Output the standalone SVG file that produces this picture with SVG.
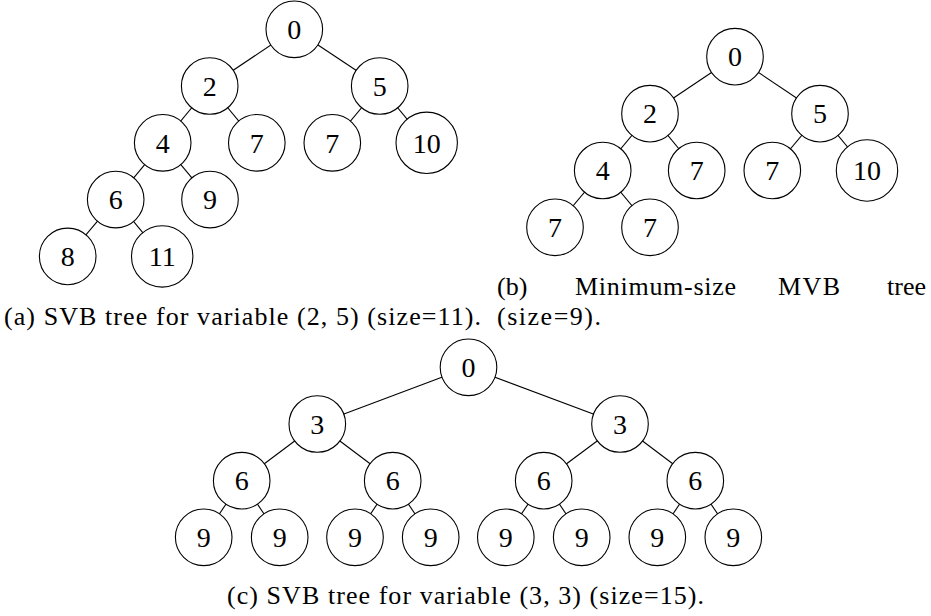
<svg xmlns="http://www.w3.org/2000/svg" width="931" height="616" viewBox="0 0 931 616">
<style>
.e{stroke:#000;stroke-width:1.1;fill:none}
.n circle{fill:#fff;stroke:#000;stroke-width:1.1}
.n text{font-family:"Liberation Serif","Times New Roman",serif;font-size:28px;text-anchor:middle;fill:#000}
.cap{font-family:"Liberation Serif","Times New Roman",serif;font-size:26px;fill:#000}
</style>
<rect width="931" height="616" fill="#fff"/>
<g id="connectors">
<line class="e" x1="294.3" y1="29.3" x2="209.7" y2="86"/>
<line class="e" x1="294.3" y1="29.3" x2="379.7" y2="86"/>
<line class="e" x1="209.7" y1="86" x2="162.7" y2="142.8"/>
<line class="e" x1="209.7" y1="86" x2="256.8" y2="142.8"/>
<line class="e" x1="379.7" y1="86" x2="332.3" y2="142.8"/>
<line class="e" x1="379.7" y1="86" x2="426.7" y2="142.8"/>
<line class="e" x1="162.7" y1="142.8" x2="115.7" y2="199.6"/>
<line class="e" x1="162.7" y1="142.8" x2="210" y2="199.6"/>
<line class="e" x1="115.7" y1="199.6" x2="67.7" y2="256.4"/>
<line class="e" x1="115.7" y1="199.6" x2="162.2" y2="256.4"/>
<line class="e" x1="735" y1="56.7" x2="650" y2="113.7"/>
<line class="e" x1="735" y1="56.7" x2="820" y2="113.7"/>
<line class="e" x1="650" y1="113.7" x2="602.7" y2="170.5"/>
<line class="e" x1="650" y1="113.7" x2="696.7" y2="170.5"/>
<line class="e" x1="820" y1="113.7" x2="772.3" y2="170.5"/>
<line class="e" x1="820" y1="113.7" x2="867" y2="170.5"/>
<line class="e" x1="602.7" y1="170.5" x2="555" y2="227.3"/>
<line class="e" x1="602.7" y1="170.5" x2="650" y2="227.3"/>
<line class="e" x1="468.5" y1="367.3" x2="317.3" y2="424"/>
<line class="e" x1="468.5" y1="367.3" x2="620" y2="424"/>
<line class="e" x1="317.3" y1="424" x2="241.7" y2="480.7"/>
<line class="e" x1="317.3" y1="424" x2="392.7" y2="480.7"/>
<line class="e" x1="620" y1="424" x2="543.7" y2="480.7"/>
<line class="e" x1="620" y1="424" x2="695.3" y2="480.7"/>
<line class="e" x1="241.7" y1="480.7" x2="203.7" y2="537.3"/>
<line class="e" x1="241.7" y1="480.7" x2="279.7" y2="537.3"/>
<line class="e" x1="392.7" y1="480.7" x2="355" y2="537.3"/>
<line class="e" x1="392.7" y1="480.7" x2="430.7" y2="537.3"/>
<line class="e" x1="543.7" y1="480.7" x2="505.8" y2="537.3"/>
<line class="e" x1="543.7" y1="480.7" x2="581.7" y2="537.3"/>
<line class="e" x1="695.3" y1="480.7" x2="657.3" y2="537.3"/>
<line class="e" x1="695.3" y1="480.7" x2="733.3" y2="537.3"/>
</g>
<g id="a0" class="n"><circle cx="294.3" cy="29.3" r="28.3"/><text x="294.3" y="39">0</text></g>
<g id="a2" class="n"><circle cx="209.7" cy="86" r="28.3"/><text x="209.7" y="95.7">2</text></g>
<g id="a5" class="n"><circle cx="379.7" cy="86" r="28.3"/><text x="379.7" y="95.7">5</text></g>
<g id="a4" class="n"><circle cx="162.7" cy="142.8" r="28.3"/><text x="162.7" y="152.5">4</text></g>
<g id="a7l" class="n"><circle cx="256.8" cy="142.8" r="28.3"/><text x="256.8" y="152.5">7</text></g>
<g id="a7r" class="n"><circle cx="332.3" cy="142.8" r="28.3"/><text x="332.3" y="152.5">7</text></g>
<g id="a10" class="n"><circle cx="426.7" cy="142.8" r="30.7"/><text x="426.7" y="152.5">10</text></g>
<g id="a6" class="n"><circle cx="115.7" cy="199.6" r="28.3"/><text x="115.7" y="209.3">6</text></g>
<g id="a9" class="n"><circle cx="210" cy="199.6" r="28.3"/><text x="210" y="209.3">9</text></g>
<g id="a8" class="n"><circle cx="67.7" cy="256.4" r="28.3"/><text x="67.7" y="266.1">8</text></g>
<g id="a11" class="n"><circle cx="162.2" cy="256.4" r="30.7"/><text x="162.2" y="266.1">11</text></g>
<g id="b0" class="n"><circle cx="735" cy="56.7" r="28.3"/><text x="735" y="66.4">0</text></g>
<g id="b2" class="n"><circle cx="650" cy="113.7" r="28.3"/><text x="650" y="123.4">2</text></g>
<g id="b5" class="n"><circle cx="820" cy="113.7" r="28.3"/><text x="820" y="123.4">5</text></g>
<g id="b4" class="n"><circle cx="602.7" cy="170.5" r="28.3"/><text x="602.7" y="180.2">4</text></g>
<g id="b7a" class="n"><circle cx="696.7" cy="170.5" r="28.3"/><text x="696.7" y="180.2">7</text></g>
<g id="b7b" class="n"><circle cx="772.3" cy="170.5" r="28.3"/><text x="772.3" y="180.2">7</text></g>
<g id="b10" class="n"><circle cx="867" cy="170.5" r="30.7"/><text x="867" y="180.2">10</text></g>
<g id="b7c" class="n"><circle cx="555" cy="227.3" r="28.3"/><text x="555" y="237">7</text></g>
<g id="b7d" class="n"><circle cx="650" cy="227.3" r="28.3"/><text x="650" y="237">7</text></g>
<g id="c0" class="n"><circle cx="468.5" cy="367.3" r="28.3"/><text x="468.5" y="377">0</text></g>
<g id="c3a" class="n"><circle cx="317.3" cy="424" r="28.3"/><text x="317.3" y="433.7">3</text></g>
<g id="c3b" class="n"><circle cx="620" cy="424" r="28.3"/><text x="620" y="433.7">3</text></g>
<g id="c6a" class="n"><circle cx="241.7" cy="480.7" r="28.3"/><text x="241.7" y="490.4">6</text></g>
<g id="c6b" class="n"><circle cx="392.7" cy="480.7" r="28.3"/><text x="392.7" y="490.4">6</text></g>
<g id="c6c" class="n"><circle cx="543.7" cy="480.7" r="28.3"/><text x="543.7" y="490.4">6</text></g>
<g id="c6d" class="n"><circle cx="695.3" cy="480.7" r="28.3"/><text x="695.3" y="490.4">6</text></g>
<g id="c9a" class="n"><circle cx="203.7" cy="537.3" r="28.3"/><text x="203.7" y="547">9</text></g>
<g id="c9b" class="n"><circle cx="279.7" cy="537.3" r="28.3"/><text x="279.7" y="547">9</text></g>
<g id="c9c" class="n"><circle cx="355" cy="537.3" r="28.3"/><text x="355" y="547">9</text></g>
<g id="c9d" class="n"><circle cx="430.7" cy="537.3" r="28.3"/><text x="430.7" y="547">9</text></g>
<g id="c9e" class="n"><circle cx="505.8" cy="537.3" r="28.3"/><text x="505.8" y="547">9</text></g>
<g id="c9f" class="n"><circle cx="581.7" cy="537.3" r="28.3"/><text x="581.7" y="547">9</text></g>
<g id="c9g" class="n"><circle cx="657.3" cy="537.3" r="28.3"/><text x="657.3" y="547">9</text></g>
<g id="c9h" class="n"><circle cx="733.3" cy="537.3" r="28.3"/><text x="733.3" y="547">9</text></g>
<g id="captions">
<text class="cap" x="4" y="325" textLength="477">(a) SVB tree for variable (2, 5) (size=11).</text>
<text class="cap" x="497" y="295">(b)</text>
<text class="cap" x="575" y="295" textLength="161">Minimum-size</text>
<text class="cap" x="778" y="295" textLength="62">MVB</text>
<text class="cap" x="926" y="295" text-anchor="end">tree</text>
<text class="cap" x="497" y="325" textLength="104">(size=9).</text>
<text class="cap" x="227" y="604" textLength="477">(c) SVB tree for variable (3, 3) (size=15).</text>
</g>
</svg>
